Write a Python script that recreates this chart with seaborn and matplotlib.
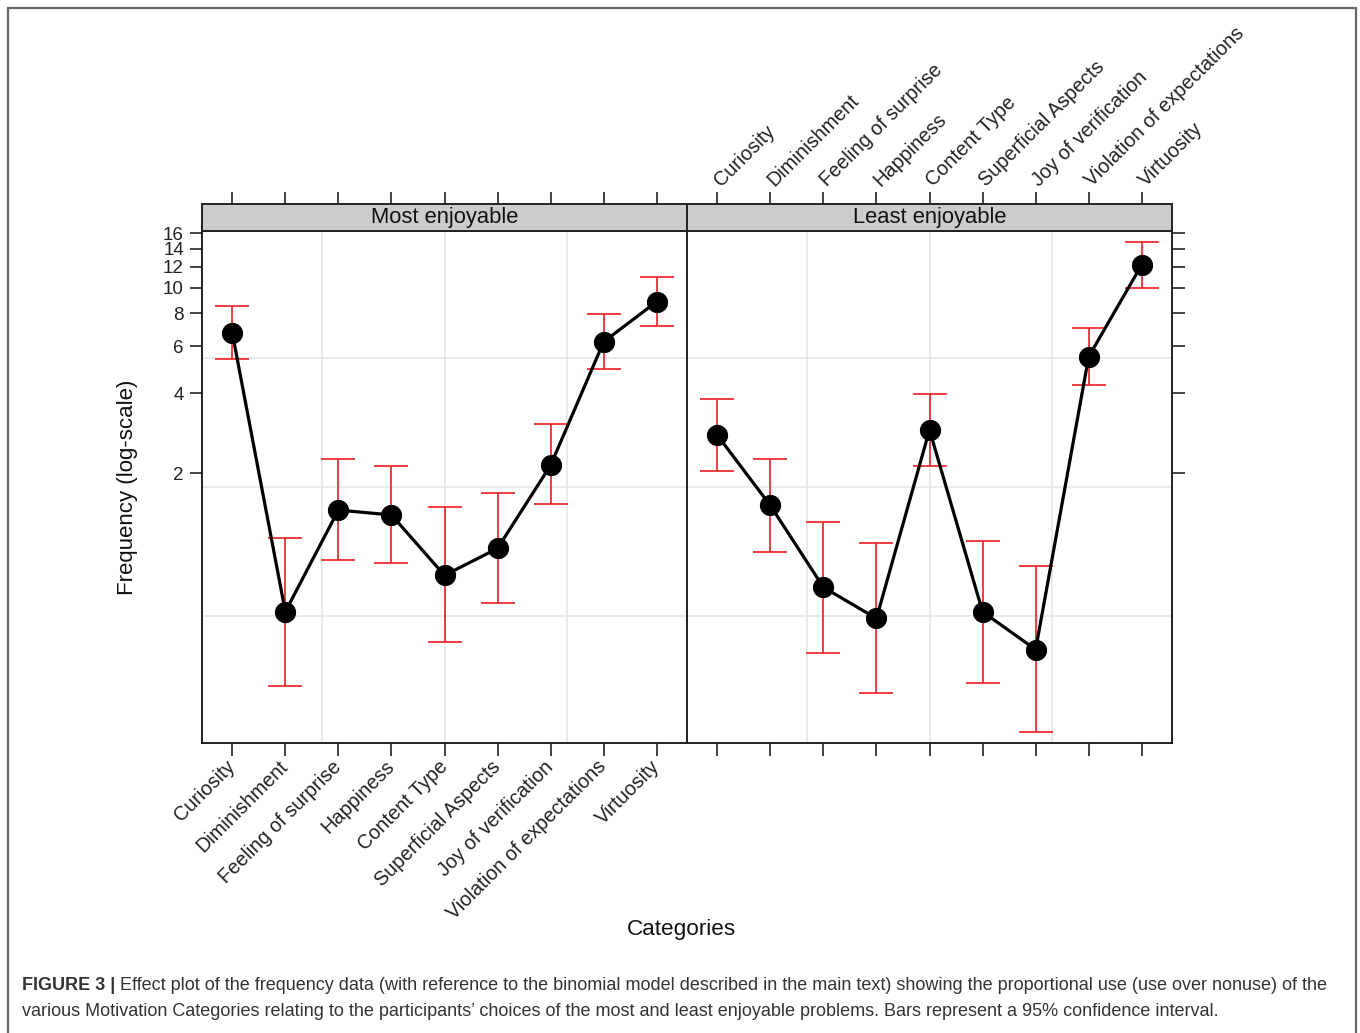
import matplotlib
matplotlib.use("Agg")
import matplotlib.pyplot as plt
import seaborn as sns
import pandas as pd
import numpy as np
from matplotlib.patches import Rectangle

# ---------------- data ----------------
categories = ["Curiosity", "Diminishment", "Feeling of surprise", "Happiness",
              "Content Type", "Superficial Aspects", "Joy of verification",
              "Violation of expectations", "Virtuosity"]
panels = ["Most enjoyable", "Least enjoyable"]

most_fit = [6.76, 0.60, 1.45, 1.39, 0.823, 1.04, 2.14, 6.25, 8.86]
most_lower = [5.39, 0.316, 0.94, 0.914, 0.463, 0.65, 1.53, 4.94, 7.19]
most_upper = [8.55, 1.135, 2.26, 2.13, 1.49, 1.68, 3.06, 7.98, 11.0]

least_fit = [2.78, 1.51, 0.742, 0.566, 2.91, 0.60, 0.432, 5.49, 12.2]
least_lower = [2.03, 1.01, 0.421, 0.297, 2.13, 0.324, 0.212, 4.30, 10.0]
least_upper = [3.81, 2.26, 1.31, 1.09, 3.98, 1.11, 0.89, 7.06, 14.9]

ytick_values = [2, 4, 6, 8, 10, 12, 14, 16]
grid_y = [0.58, 1.77, 5.44]
grid_x = [1.7, 4.0, 6.3]

y_label = "Frequency (log-scale)"
x_label = "Categories"
caption_bold = "FIGURE 3 |"
caption_l1 = (" Effect plot of the frequency data (with reference to the binomial model described in the main text) "
              "showing the proportional use (use over nonuse) of the")
caption_l2 = ("various Motivation Categories relating to the participants\u2019 choices of the most and least "
              "enjoyable problems. Bars represent a 95% confidence interval.")

# ---------------- style ----------------
sns.set_theme(style="white")
plt.rcParams["font.family"] = ["Liberation Sans", "DejaVu Sans"]

W, H = 1360, 1033
fig = plt.figure(figsize=(W / 100, H / 100), dpi=100)
fig.patch.set_facecolor("white")

def fx(px):
    return px / W

def fy(py):
    return 1 - py / H

# outer border
fig.patches.append(Rectangle((fx(8), -0.02), fx(1356) - fx(8), fy(8) + 0.02,
                             transform=fig.transFigure, fill=False,
                             edgecolor="#666666", lw=1.6, zorder=0))

panel_left = [202, 687]
panel_w = 485
ax_top, ax_bot = 231, 743
strip_top = 204

ymin, ymax = 0.192, 16.35
xmin, xmax = -0.57, 8.57
positions = list(range(len(categories)))

fits = [most_fit, least_fit]
lows = [most_lower, least_lower]
ups = [most_upper, least_upper]

frame_col = "#222222"
tick_kw = dict(direction="out", length=9, width=1.3, color="#333333",
               labelcolor="#222222")
cat_size = 14.3
ytick_size = 13.5

for i, name in enumerate(panels):
    ax = fig.add_axes([fx(panel_left[i]), fy(ax_bot), fx(panel_w), (ax_bot - ax_top) / H])
    ax.set_yscale("log")
    ax.set_xlim(xmin, xmax)
    ax.set_ylim(ymin, ymax)
    for g in grid_x:
        ax.axvline(g, color="#e6e6e6", lw=1.2, zorder=0)
    for g in grid_y:
        ax.axhline(g, color="#e6e6e6", lw=1.2, zorder=0)

    df = pd.DataFrame({"pos": positions, "fit": fits[i],
                       "lower": lows[i], "upper": ups[i]})
    yerr = np.vstack([df["fit"] - df["lower"], df["upper"] - df["fit"]])
    ax.errorbar(df["pos"], df["fit"], yerr=yerr, fmt="none", ecolor="#ee1c25",
                elinewidth=1.2, capsize=12, capthick=1.2, zorder=2)
    sns.lineplot(data=df, x="pos", y="fit", ax=ax, color="black", lw=2.3,
                 marker="o", markersize=14.5, markeredgecolor="black",
                 markerfacecolor="black", zorder=3, legend=False)
    ax.set_xlim(xmin, xmax)
    ax.set_ylim(ymin, ymax)
    ax.set_xlabel("")
    ax.set_ylabel("")

    ax.minorticks_off()
    ax.set_yticks(ytick_values)
    ax.set_xticks(positions)
    for sp in ax.spines.values():
        sp.set_color(frame_col)
        sp.set_linewidth(1.4)
        sp.set_visible(True)

    if i == 0:
        ax.set_yticklabels([str(v) for v in ytick_values])
        ax.set_xticklabels(categories, rotation=45, ha="right", va="center",
                           rotation_mode="anchor")
        ax.tick_params(axis="y", which="both", left=True, right=False,
                       labelleft=True, labelsize=ytick_size, pad=4, **tick_kw)
        ax.tick_params(axis="x", bottom=True, labelbottom=True, pad=6,
                       labelsize=cat_size, **tick_kw)
    else:
        ax.set_yticklabels([])
        ax.set_xticklabels([])
        ax.tick_params(axis="y", which="both", left=False, right=True,
                       labelleft=False, labelright=False, **tick_kw)
        ax.tick_params(axis="x", bottom=True, labelbottom=False, **tick_kw)
    ax.minorticks_off()

    # strip
    sax = fig.add_axes([fx(panel_left[i]), fy(ax_top), fx(panel_w), (ax_top - strip_top) / H])
    sax.set_facecolor("#cccccc")
    sax.set_xlim(xmin, xmax)
    sax.set_ylim(0, 1)
    sax.set_yticks([])
    sax.set_xticks(positions)
    for sp in sax.spines.values():
        sp.set_color(frame_col)
        sp.set_linewidth(1.4)
    sax.text(0.5, 0.5, name, transform=sax.transAxes, ha="center", va="center",
             fontsize=15.8, color="#111111")
    sax.xaxis.set_ticks_position("top")
    if i == 1:
        sax.set_xticklabels(categories, rotation=45, ha="left", va="center",
                            rotation_mode="anchor")
        sax.tick_params(axis="x", top=True, bottom=False, labeltop=True,
                        labelbottom=False, pad=6, labelsize=cat_size, **tick_kw)
    else:
        sax.set_xticklabels([])
        sax.tick_params(axis="x", top=True, bottom=False, labeltop=False,
                        labelbottom=False, **tick_kw)

fig.text(fx(681), fy(930), x_label, ha="center", va="center", fontsize=16.2, color="#111111")
fig.text(fx(128), fy(487), y_label, ha="center", va="center", rotation=90,
         fontsize=16, color="#111111")

# caption
cap_col = "#333333"
cap_size = 13
t_bold = fig.text(fx(22), fy(986), caption_bold, ha="left", va="center",
                  fontsize=cap_size, fontweight="bold", color=cap_col)
renderer = fig.canvas.get_renderer()
bb = t_bold.get_window_extent(renderer=renderer)
fig.text(bb.x1 / W, fy(986), caption_l1, ha="left", va="center",
         fontsize=cap_size, color=cap_col)
fig.text(fx(22), fy(1011), caption_l2, ha="left", va="center",
         fontsize=cap_size, color=cap_col)

fig.savefig("out.png", dpi=100, facecolor="white")
